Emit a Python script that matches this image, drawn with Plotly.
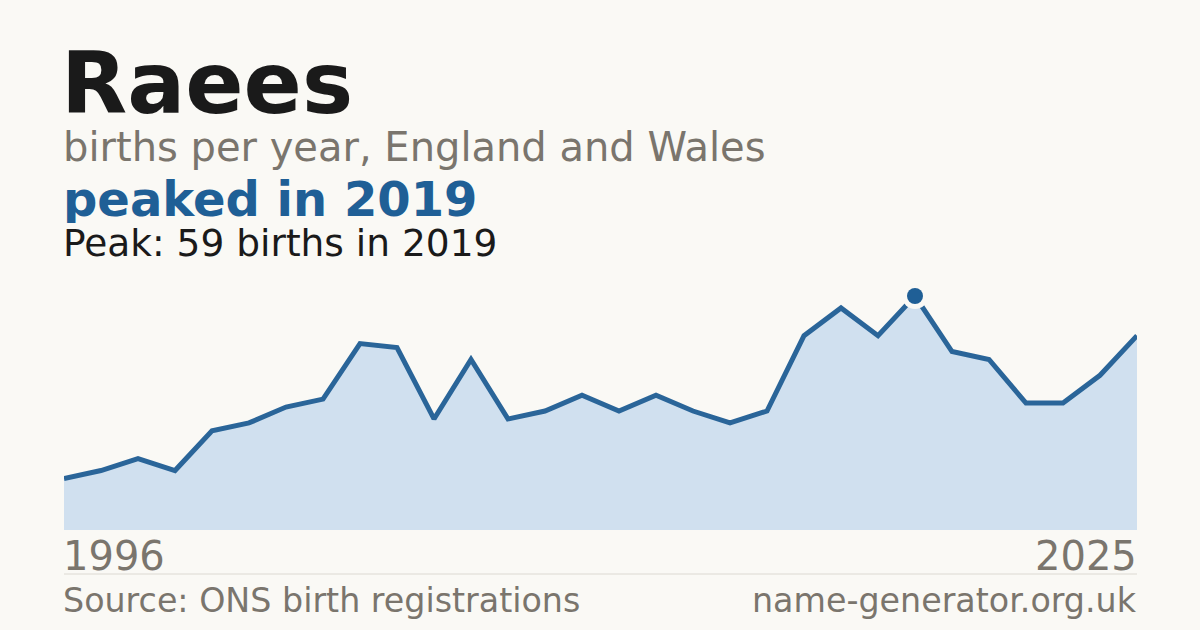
import plotly.graph_objects as go

years = list(range(1996, 2026))
births = [13, 15, 18, 15, 25, 27, 31, 33, 47, 46, 28, 43, 28, 30, 34, 30, 34, 30, 27, 30,
          49, 56, 49, 59, 45, 43, 32, 32, 39, 49]
name = "Raees"
subtitle = "births per year, England and Wales"
headline = "peaked in 2019"
peak_text = "Peak: 59 births in 2019"
source_text = "Source: ONS birth registrations"
site_text = "name-generator.org.uk"

peak_i = births.index(max(births))

BG = "#faf9f5"
LINE = "#2a6599"
FILL = "#d0e0ef"
GREY = "#7a756d"
DARK = "#1a1a1a"
BLUE = "#1f5f96"
FONT = "DejaVu Sans"

W, H = 1200, 630
L, R, T, B = 64, 63, 270, 100
PW, PH = W - L - R, H - T - B


def px(x):
    return (x - L) / PW


def py(y):
    return (H - B - y) / PH


fig = go.Figure()
fig.add_trace(go.Scatter(
    x=years, y=births, mode="lines",
    line=dict(color=LINE, width=5),
    fill="tozeroy", fillcolor=FILL, hoverinfo="skip", showlegend=False,
))
fig.add_trace(go.Scatter(
    x=[years[peak_i]], y=[births[peak_i]], mode="markers",
    marker=dict(size=26, color=BG, line=dict(width=0)),
    hoverinfo="skip", showlegend=False,
))
fig.add_trace(go.Scatter(
    x=[years[peak_i]], y=[births[peak_i]], mode="markers",
    marker=dict(size=16, color=BLUE, line=dict(width=0)),
    hoverinfo="skip", showlegend=False,
))

annos = [
    dict(text=f"<b>{name}</b>", x=px(L - 4), y=py(83), size=86, color=DARK, xanchor="left", h=None),
    dict(text=subtitle, x=px(L - 2), y=py(147), size=40, color=GREY, xanchor="left", h=None),
    dict(text=f"<b>{headline}</b>", x=px(L - 2), y=py(199), size=48, color=BLUE, xanchor="left", h=48),
    dict(text=peak_text, x=px(L - 2), y=py(243), size=37.5, color=DARK, xanchor="left", h=38),
    dict(text=str(years[0]), x=px(L - 2), y=py(556), size=40, color=GREY, xanchor="left", h=None),
    dict(text=str(years[-1]), x=px(W - R + 1), y=py(556), size=40, color=GREY, xanchor="right", h=None),
    dict(text=source_text, x=px(L - 2), y=py(600), size=33.3, color=GREY, xanchor="left", h=None),
    dict(text=site_text, x=px(W - R + 1), y=py(600), size=33.3, color=GREY, xanchor="right", h=None),
]
for a in annos:
    fig.add_annotation(
        text=a["text"], x=a["x"], y=a["y"], xref="paper", yref="paper",
        xanchor=a["xanchor"], yanchor="middle", showarrow=False, borderpad=0,
        height=a["h"],
        font=dict(family=FONT, size=a["size"], color=a["color"]),
    )

fig.add_shape(type="line", xref="paper", yref="paper", x0=0, x1=1, y0=py(574), y1=py(574),
              line=dict(color="#dcd9d2", width=1))

fig.update_layout(
    width=W, height=H,
    margin=dict(l=L, r=R, t=T, b=B),
    paper_bgcolor=BG, plot_bgcolor=BG,
    xaxis=dict(range=[years[0], years[-1]], visible=False, fixedrange=True),
    yaxis=dict(range=[0, PH / 3.966], visible=False, fixedrange=True),
    font=dict(family=FONT),
    hovermode=False,
)

fig.write_html(
    "out.html",
    config={"displayModeBar": False, "staticPlot": True},
    post_script="document.body.style.margin='0';document.body.style.background='#faf9f5';",
)
